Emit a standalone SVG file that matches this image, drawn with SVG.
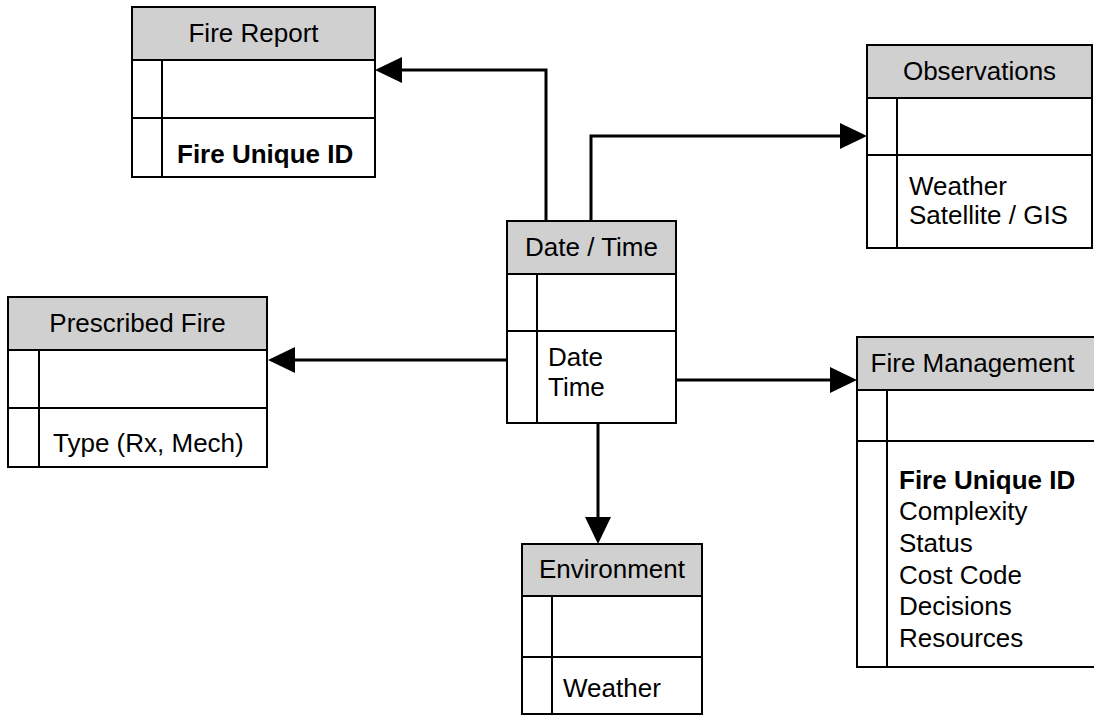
<svg xmlns="http://www.w3.org/2000/svg" width="1094" height="719" viewBox="0 0 1094 719">
  <style>
    .box { fill: #ffffff; stroke: #000000; stroke-width: 2; }
    .head { fill: #d0d0d0; stroke: #000000; stroke-width: 2; }
    .rule { stroke: #000000; stroke-width: 2; fill: none; }
    .title { font-family: "Liberation Sans", Arial, sans-serif; font-size: 26px; fill: #000000; text-anchor: middle; }
    .field { font-family: "Liberation Sans", Arial, sans-serif; font-size: 26px; fill: #000000; }
    .key { font-weight: bold; }
    .link { stroke: #000000; stroke-width: 3; fill: none; }
    .tip { fill: #000000; stroke: none; }
  </style>

  <!-- relationship lines from the Date / Time entity -->
  <g id="connectors">
    <polyline class="link" points="546,221 546,70 400,70"/>
    <polygon class="tip" points="375,70 402,57 402,83"/>

    <polyline class="link" points="591,221 591,136 842,136"/>
    <polygon class="tip" points="867,136 840,123 840,149"/>

    <line class="link" x1="507" y1="360" x2="294" y2="360"/>
    <polygon class="tip" points="268,360 295,347 295,373"/>

    <line class="link" x1="676" y1="380" x2="832" y2="380"/>
    <polygon class="tip" points="857,380 830,367 830,393"/>

    <line class="link" x1="598" y1="423" x2="598" y2="519"/>
    <polygon class="tip" points="598,544 585,517 611,517"/>
  </g>

  <g id="fire-report">
    <rect class="box" x="132" y="7" width="243" height="170"/>
    <rect class="head" x="132" y="7" width="243" height="53"/>
    <line class="rule" x1="132" y1="118" x2="375" y2="118"/>
    <line class="rule" x1="162" y1="60" x2="162" y2="177"/>
    <text class="title" x="253.5" y="42">Fire Report</text>
    <text class="field key" x="177" y="163">Fire Unique ID</text>
  </g>

  <g id="observations">
    <rect class="box" x="867" y="45" width="225" height="203"/>
    <rect class="head" x="867" y="45" width="225" height="53"/>
    <line class="rule" x1="867" y1="155" x2="1092" y2="155"/>
    <line class="rule" x1="897" y1="98" x2="897" y2="248"/>
    <text class="title" x="979.5" y="80">Observations</text>
    <text class="field" x="909" y="195">Weather</text>
    <text class="field" x="909" y="224">Satellite / GIS</text>
  </g>

  <g id="date-time">
    <rect class="box" x="507" y="221" width="169" height="202"/>
    <rect class="head" x="507" y="221" width="169" height="53"/>
    <line class="rule" x1="507" y1="331" x2="676" y2="331"/>
    <line class="rule" x1="537" y1="274" x2="537" y2="423"/>
    <text class="title" x="591.5" y="256">Date / Time</text>
    <text class="field" x="548" y="366">Date</text>
    <text class="field" x="548" y="396">Time</text>
  </g>

  <g id="prescribed-fire">
    <rect class="box" x="8" y="297" width="259" height="170"/>
    <rect class="head" x="8" y="297" width="259" height="53"/>
    <line class="rule" x1="8" y1="408" x2="267" y2="408"/>
    <line class="rule" x1="39" y1="350" x2="39" y2="467"/>
    <text class="title" x="137.5" y="332">Prescribed Fire</text>
    <text class="field" x="53" y="452">Type (Rx, Mech)</text>
  </g>

  <g id="fire-management">
    <rect class="box" x="857" y="337" width="250" height="330"/>
    <rect class="head" x="857" y="337" width="250" height="53"/>
    <line class="rule" x1="857" y1="441" x2="1107" y2="441"/>
    <line class="rule" x1="887" y1="390" x2="887" y2="667"/>
    <text class="title" x="972.5" y="372">Fire Management</text>
    <text class="field key" x="899" y="489">Fire Unique ID</text>
    <text class="field" x="899" y="520">Complexity</text>
    <text class="field" x="899" y="552">Status</text>
    <text class="field" x="899" y="584">Cost Code</text>
    <text class="field" x="899" y="615">Decisions</text>
    <text class="field" x="899" y="647">Resources</text>
  </g>

  <g id="environment">
    <rect class="box" x="522" y="544" width="180" height="170"/>
    <rect class="head" x="522" y="544" width="180" height="52"/>
    <line class="rule" x1="522" y1="657" x2="702" y2="657"/>
    <line class="rule" x1="552" y1="596" x2="552" y2="714"/>
    <text class="title" x="612" y="578">Environment</text>
    <text class="field" x="563" y="697">Weather</text>
  </g>
</svg>
